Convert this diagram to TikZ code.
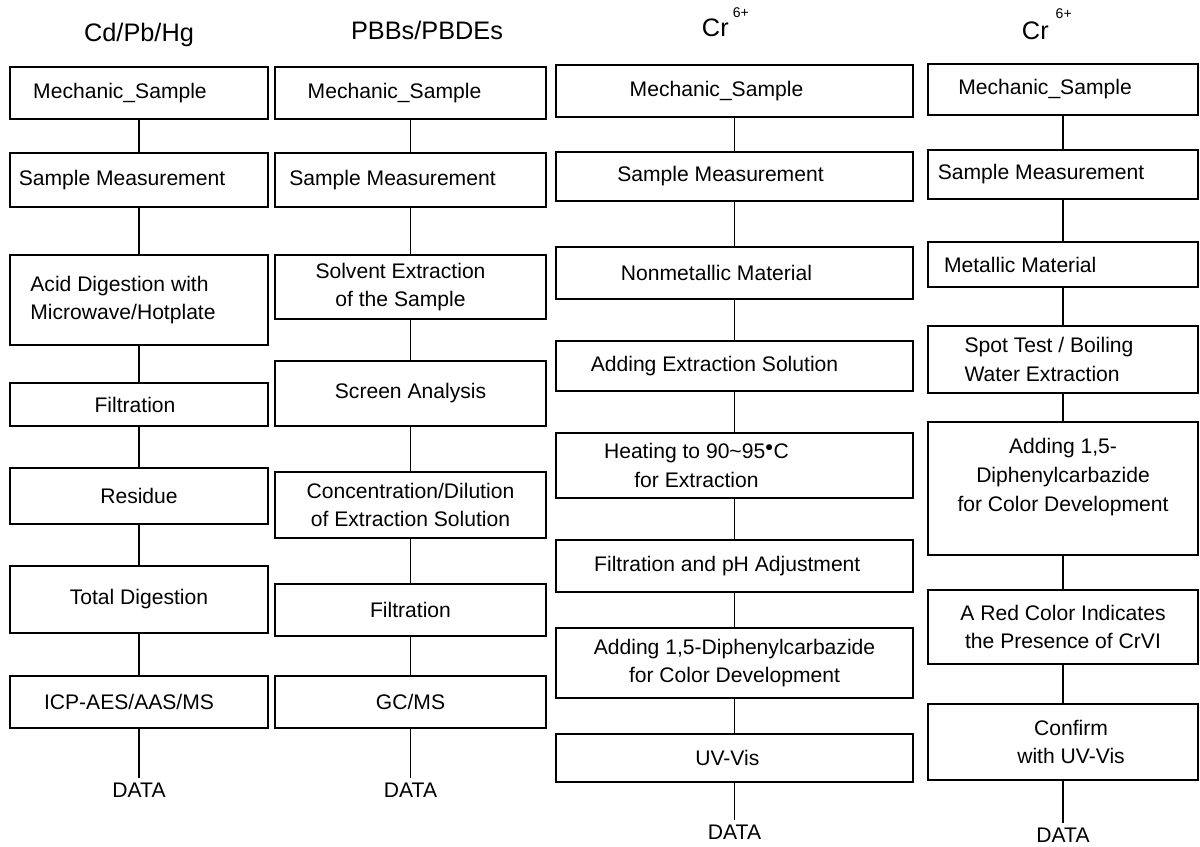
\documentclass[tikz,border=0pt]{standalone}
\usepackage{fontspec}
\setmainfont{Liberation Sans}
\tikzset{
  box/.style={draw, line width=1.3pt, inner sep=0pt, minimum height=#1},
  wa/.style={minimum width=6.45cm},
  wb/.style={minimum width=6.775cm},
  wc/.style={minimum width=8.925cm},
  wd/.style={minimum width=6.75cm},
  ttl/.style={font=\fontsize{18}{22}\selectfont, anchor=base},
  every label/.append style={align=center},
  lnk/.style={line width=1.1pt},
}
\begin{document}
\begin{tikzpicture}[x=0.025cm, y=-0.025cm, font=\fontsize{15}{20.5}\selectfont]
\useasboundingbox (0,0) rectangle (1200,846);

% titles
\node[ttl] (ta) at (139,42) {Cd/Pb/Hg};
\node[ttl] (tb) at (427,40) {PBBs/PBDEs};
\node[ttl, anchor=base west] (tc) at (697,37) {Cr\hspace{3pt}\raisebox{14pt}{\fontsize{10}{12}\selectfont 6+}};
\node[ttl, anchor=base west] (td) at (1017,40) {Cr\hspace{5pt}\raisebox{15pt}{\fontsize{10}{12}\selectfont 6+}};

% Cd/Pb/Hg
\node[box=1.3cm, wa, label={[xshift=-0.475cm]center:Mechanic\_Sample}] (a1) at (139,93) {};
\node[box=1.35cm, wa, label={[xshift=-0.425cm]center:Sample Measurement}] (a2) at (139,180) {};
\node[box=2.25cm, wa, label={[xshift=-0.4cm, align=left]center:Acid Digestion with\\Microwave/Hotplate}] (a3) at (139,300) {};
\node[box=1.075cm, wa, label={[xshift=-0.1cm]center:Filtration}] (a4) at (139,404.5) {};
\node[box=1.4cm, wa, label={center:Residue}] (a5) at (139,496) {};
\node[box=1.675cm, wa, label={center:Total Digestion}] (a6) at (139,599.5) {};
\node[box=1.3cm, wa, label={[xshift=-0.25cm]center:ICP-AES/AAS/MS}] (a7) at (139,702) {};
\node (a8) at (139,790) {DATA};

% PBBs/PBDEs
\node[box=1.3cm, wb, label={[xshift=-0.4cm]center:Mechanic\_Sample}] (b1) at (410.5,93) {};
\node[box=1.35cm, wb, label={[xshift=-0.45cm]center:Sample Measurement}] (b2) at (410.5,180) {};
\node[box=1.6cm, wb, label={[xshift=-0.25cm]center:Solvent Extraction\\of the Sample}] (b3) at (410.5,287) {};
\node[box=1.625cm, wb, label={center:Screen Analysis}] (b4) at (410.5,393.5) {};
\node[box=1.65cm, wb, label={center:Concentration/Dilution\\of Extraction Solution}] (b5) at (410.5,505) {};
\node[box=1.3cm, wb, label={center:Filtration}] (b6) at (410.5,610) {};
\node[box=1.3cm, wb, label={center:GC/MS}] (b7) at (410.5,702) {};
\node (b8) at (410.5,790) {DATA};

% Cr6+ nonmetallic
\node[box=1.3cm, wc, label={[xshift=-0.45cm]center:Mechanic\_Sample}] (c1) at (734.5,91) {};
\node[box=1.225cm, wc, label={[xshift=-0.35cm]center:Sample Measurement}] (c2) at (734.5,176.5) {};
\node[box=1.3cm, wc, label={[xshift=-0.45cm]center:Nonmetallic Material}] (c3) at (734.5,273) {};
\node[box=1.25cm, wc, label={[xshift=-0.5cm]center:Adding Extraction Solution}] (c4) at (734.5,366) {};
\node[box=1.625cm, wc, label={[xshift=-0.95cm]center:Heating to 90\textasciitilde95$^{\bullet}$C\\for Extraction}] (c5) at (734.5,465.5) {};
\node[box=1.3cm, wc, label={[xshift=-0.18cm]center:Filtration and pH Adjustment}] (c6) at (734.5,566) {};
\node[box=1.75cm, wc, label={center:Adding 1,5-Diphenylcarbazide\\for Color Development}] (c7) at (734.5,663) {};
\node[box=1.2cm, wc, label={[xshift=-0.18cm]center:UV-Vis}] (c8) at (734.5,758) {};
\node (c9) at (734.5,832) {DATA};

% Cr6+ metallic
\node[box=1.275cm, wd, label={[xshift=-0.45cm]center:Mechanic\_Sample}] (d1) at (1063,89.5) {};
\node[box=1.225cm, wd, label={[xshift=-0.55cm]center:Sample Measurement}] (d2) at (1063,174.5) {};
\node[box=1.125cm, wd, label={[xshift=-1.07cm]center:Metallic Material}] (d3) at (1063,264.5) {};
\node[box=1.675cm, wd, label={[xshift=-0.35cm, align=left]center:Spot Test / Boiling\\Water Extraction}] (d4) at (1063,359.5) {};
\node[box=3.325cm, wd, label={[yshift=0.28cm]center:Adding 1,5-\\Diphenylcarbazide\\for Color Development}] (d5) at (1063,488.5) {};
\node[box=1.85cm, wd, label={center:A Red Color Indicates\\the Presence of CrVI}] (d6) at (1063,627) {};
\node[box=1.9cm, wd, label={[xshift=0.2cm]center:Confirm\\with UV-Vis}] (d7) at (1063,742) {};
\node (d8) at (1063,835) {DATA};

\foreach \i/\j in {a1/a2, a2/a3, a3/a4, a4/a5, a5/a6, a6/a7, a7/a8,
  b1/b2, b2/b3, b3/b4, b4/b5, b5/b6, b6/b7, b7/b8,
  c1/c2, c2/c3, c3/c4, c4/c5, c5/c6, c6/c7, c7/c8, c8/c9,
  d1/d2, d2/d3, d3/d4, d4/d5, d5/d6, d6/d7, d7/d8}
\draw[lnk] (\i) -- (\j);

\end{tikzpicture}
\end{document}
